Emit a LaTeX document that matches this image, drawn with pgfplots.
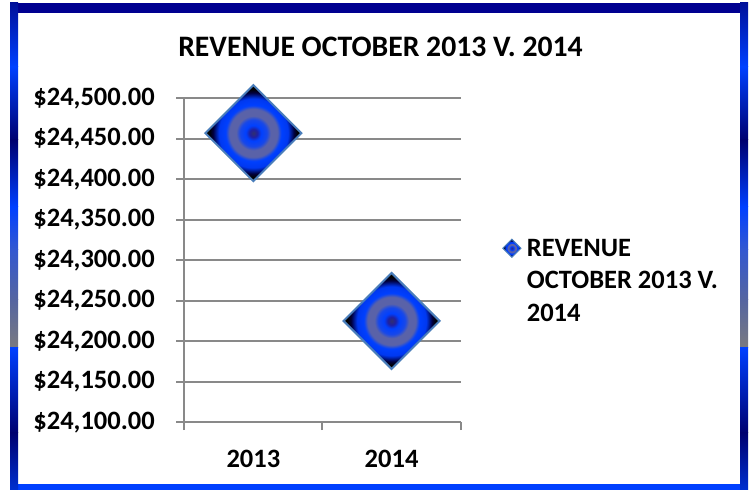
\documentclass[border=0pt]{standalone}
\usepackage{fontspec}
\setmainfont{Carlito}
\usepackage{pgfplots}
\pgfplotsset{compat=1.18}
\definecolor{gridgray}{HTML}{898989}
\definecolor{mkedge}{HTML}{4A7EBB}
\definecolor{dc0}{HTML}{303070}
\definecolor{dc1}{HTML}{2020A0}
\definecolor{dc2}{HTML}{0040FF}
\definecolor{dc3}{HTML}{1848E8}
\definecolor{dc4}{HTML}{5A62A8}
\definecolor{dc6}{HTML}{0038F0}
\definecolor{dc7}{HTML}{000040}
\definecolor{bnavy}{HTML}{000090}
\definecolor{bblue}{HTML}{0040FF}
\definecolor{bdark}{HTML}{000070}
\definecolor{btop}{HTML}{00109A}
\definecolor{bmid}{HTML}{3358D0}
\definecolor{bgb}{HTML}{5565A0}
\definecolor{bgray}{HTML}{7A7A80}
\definecolor{bbot}{HTML}{0030D0}
\pgfdeclareradialshading{diamshade}{\pgfpointorigin}{%
 color(0bp)=(dc0); color(2bp)=(dc1); color(4bp)=(dc2); color(7bp)=(dc3);
 color(9bp)=(dc4); color(12.5bp)=(dc4); color(14.5bp)=(dc2); color(18bp)=(dc6);
 color(21bp)=(dc7); color(23bp)=(black); color(50bp)=(black)}
\pgfdeclareplotmark{shdiamond}{%
  \pgfpathmoveto{\pgfqpoint{0pt}{\pgfplotmarksize}}%
  \pgfpathlineto{\pgfqpoint{\pgfplotmarksize}{0pt}}%
  \pgfpathlineto{\pgfqpoint{0pt}{-\pgfplotmarksize}}%
  \pgfpathlineto{\pgfqpoint{-\pgfplotmarksize}{0pt}}%
  \pgfpathclose
  \pgfshadepath{diamshade}{0}%
  \pgfusepathqstroke
}
\begin{document}
\begin{tikzpicture}[x=1pt,y=1pt]
\fill[white] (0,0) rectangle (756,492);
% frame
\fill[bnavy] (10,479) rectangle (748,489);
\fill[bblue] (10,2) rectangle (748,8);
\foreach \xa/\xb in {10/18,740/748}{
 \shade[top color=btop,bottom color=bblue] (\xa,425) rectangle (\xb,489);
 \shade[top color=bblue,bottom color=bdark] (\xa,352) rectangle (\xb,425);
 \shade[top color=bdark,bottom color=bblue] (\xa,285) rectangle (\xb,352);
 \shade[top color=bblue,bottom color=bmid] (\xa,242) rectangle (\xb,285);
 \shade[top color=bmid,bottom color=bgb] (\xa,192) rectangle (\xb,242);
 \shade[top color=bgb,bottom color=bgray] (\xa,144) rectangle (\xb,192);
 \shade[top color=bblue,bottom color=bdark] (\xa,59) rectangle (\xb,144);
 \shade[top color=bdark,bottom color=bbot] (\xa,2) rectangle (\xb,59);
}
\node[anchor=base, font=\bfseries\fontsize{29.7}{34}\selectfont] at (380.5,435) {REVENUE OCTOBER 2013 V. 2014};
\begin{axis}[
  at={(184.3pt,69.8pt)}, anchor=south west,
  scale only axis, width=276.4pt, height=323.9pt,
  xmin=0.5, xmax=2.5, ymin=24100, ymax=24500,
  scaled y ticks=false,
  axis x line=bottom, axis y line=left,
  axis line style={-, draw=gridgray, line width=2pt},
  tick align=outside,
  major tick length=8pt, minor tick length=8pt,
  xtick={1,2}, xticklabels={2013,2014},
  major x tick style={draw=none},
  minor xtick={0.5,1.5,2.5},
  minor x tick style={draw=gridgray, line width=2pt},
  ytick={24100,24150,24200,24250,24300,24350,24400,24450,24500},
  yticklabels={{\$24,100.00},{\$24,150.00},{\$24,200.00},{\$24,250.00},{\$24,300.00},{\$24,350.00},{\$24,400.00},{\$24,450.00},{\$24,500.00}},
  ytick style={draw=gridgray, line width=2pt},
  ymajorgrids, grid style={draw=gridgray, line width=2pt},
  ticklabel style={font=\bfseries\fontsize{26.5}{30}\selectfont, text=black},
  yticklabel style={xshift=-18pt},
  xticklabel style={yshift=-16pt},
  clip=false,
  legend style={draw=none, fill=none, at={(axis description cs:1.141,0.579)}, anchor=north west,
    font=\bfseries\fontsize{26.5}{32.5}\selectfont, cells={align=left}},
  legend cell align=left,
  legend image code/.code={%
    \path[draw=none, fill=none] (0pt,-9pt) rectangle (22pt,9pt);
    \draw[overlay, mark=shdiamond, mark size=9pt, line width=1pt, draw=mkedge] plot coordinates {(9pt,32.5pt)};},
]
\addplot[only marks, mark=shdiamond, mark size=48pt, draw=mkedge, line width=2pt]
  coordinates {(1,24457) (2,24225)};
\addlegendentry{REVENUE\\OCTOBER 2013 V.\\2014}
\end{axis}
\end{tikzpicture}
\end{document}
